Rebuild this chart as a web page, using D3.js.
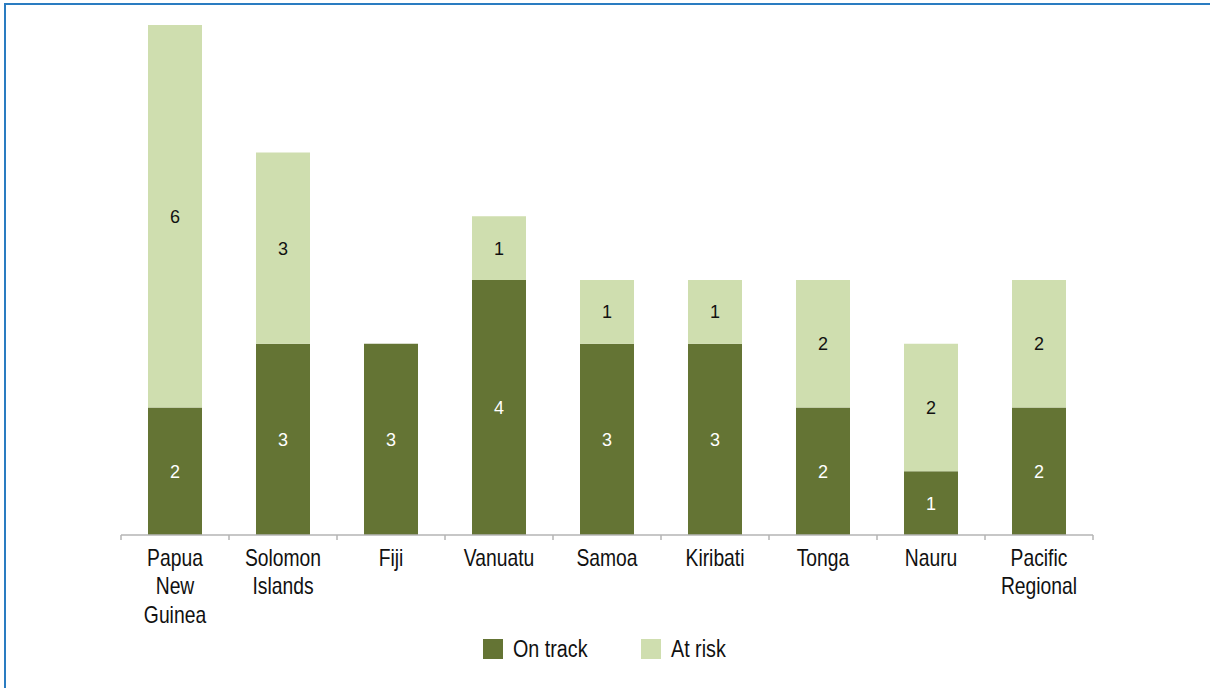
<!DOCTYPE html>
<html>
<head>
<meta charset="utf-8">
<script src="https://cdn.jsdelivr.net/npm/d3@7"></script>
<style>
  body { margin: 0; background: #fff; }
  svg { display: block; }
</style>
</head>
<body>
<div id="chart"></div>
<script>
// data
const countries = ["Papua New Guinea", "Solomon Islands", "Fiji", "Vanuatu", "Samoa",
                   "Kiribati", "Tonga", "Nauru", "Pacific Regional"];
const onTrack = [2, 3, 3, 4, 3, 3, 2, 1, 2];
const atRisk  = [6, 3, 0, 1, 1, 1, 2, 2, 2];
const seriesNames = ["On track", "At risk"];
const seriesColors = ["#647434", "#cfdeaf"];
// labels broken the way the picture breaks them
const labelLines = {
    "Papua New Guinea": ["Papua", "New", "Guinea"],
    "Solomon Islands": ["Solomon", "Islands"],
    "Pacific Regional": ["Pacific", "Regional"]
};

const W = 1210, H = 688;
const margin = {top: 25, right: 117, bottom: 153, left: 121};
const width = W - margin.left - margin.right;
const height = H - margin.top - margin.bottom;
const sans = "'Liberation Sans', Arial, sans-serif";
const narrow = 0.84; // squeeze Liberation Sans to look like the condensed face

let svg = d3.select("#chart").append("svg")
    .attr("width", W)
    .attr("height", H);

// blue frame, only top and left edges fall inside the picture
svg.append("rect")
    .attr("x", 5).attr("y", 4)
    .attr("width", W + 10).attr("height", H + 10)
    .attr("fill", "none")
    .attr("stroke", "#2a7cc1")
    .attr("stroke-width", 2);

let g = svg.append("g")
    .attr("transform", "translate(" + margin.left + "," + margin.top + ")");

let x = d3.scaleBand()
    .domain(countries)
    .range([0, width])
    .paddingInner(0.5)
    .paddingOuter(0.25);

let y = d3.scaleLinear()
    .domain([0, 8])
    .range([height, 0]);

// stack the two series
let rows = countries.map((c, i) => ({country: c, "On track": onTrack[i], "At risk": atRisk[i]}));
let stacked = d3.stack().keys(seriesNames)(rows);

let layers = g.selectAll("g.layer")
    .data(stacked)
    .enter().append("g")
    .attr("class", "layer")
    .attr("fill", (d, i) => seriesColors[i]);

layers.selectAll("rect")
    .data(d => d.filter(s => s[1] > s[0]))
    .enter().append("rect")
    .attr("x", d => x(d.data.country))
    .attr("y", d => y(d[1]))
    .attr("width", x.bandwidth())
    .attr("height", d => y(d[0]) - y(d[1]));

// value labels in each segment
layers.each(function(layer, li) {
    d3.select(this).selectAll("text")
        .data(layer.filter(s => s[1] > s[0]))
        .enter().append("text")
        .attr("x", d => x(d.data.country) + x.bandwidth() / 2)
        .attr("y", d => (y(d[0]) + y(d[1])) / 2)
        .attr("dy", "0.36em")
        .attr("text-anchor", "middle")
        .style("font-family", sans)
        .style("font-size", "18px")
        .style("fill", li === 0 ? "#ffffff" : "#111111")
        .text(d => d[1] - d[0]);
});

// x axis: baseline with ticks on the category boundaries
let axis = g.append("g").attr("transform", "translate(0," + height + ")");
axis.append("line")
    .attr("x1", 0).attr("x2", width)
    .attr("stroke", "#b5b5b5").attr("stroke-width", 1.5);
let step = x.step();
axis.selectAll("line.tick")
    .data(d3.range(countries.length + 1))
    .enter().append("line")
    .attr("class", "tick")
    .attr("x1", i => i * step).attr("x2", i => i * step)
    .attr("y1", 0).attr("y2", 5)
    .attr("stroke", "#b5b5b5").attr("stroke-width", 1.5);

axis.selectAll("g.cat")
    .data(countries)
    .enter().append("g")
    .attr("class", "cat")
    .attr("transform", d => "translate(" + (x(d) + x.bandwidth() / 2) + ",31) scale(" + narrow + ",1)")
    .append("text")
    .attr("text-anchor", "middle")
    .style("font-family", sans)
    .style("font-size", "23px")
    .style("fill", "#111")
    .each(function(d) {
        let lines = labelLines[d] || [d];
        d3.select(this).selectAll("tspan")
            .data(lines)
            .enter().append("tspan")
            .attr("x", 0)
            .attr("dy", (l, i) => i === 0 ? 0 : 28.5)
            .text(l => l);
    });

// legend
let legend = svg.append("g").attr("transform", "translate(483,639)");
let items = legend.selectAll("g")
    .data(seriesNames)
    .enter().append("g")
    .attr("transform", (d, i) => "translate(" + i * 158 + ",0)");
items.append("rect")
    .attr("width", 20).attr("height", 20)
    .attr("fill", (d, i) => seriesColors[i]);
items.append("text")
    .attr("transform", "translate(30,18) scale(" + narrow + ",1)")
    .style("font-family", sans)
    .style("font-size", "23.5px")
    .style("fill", "#111")
    .text(d => d);
</script>
</body>
</html>
